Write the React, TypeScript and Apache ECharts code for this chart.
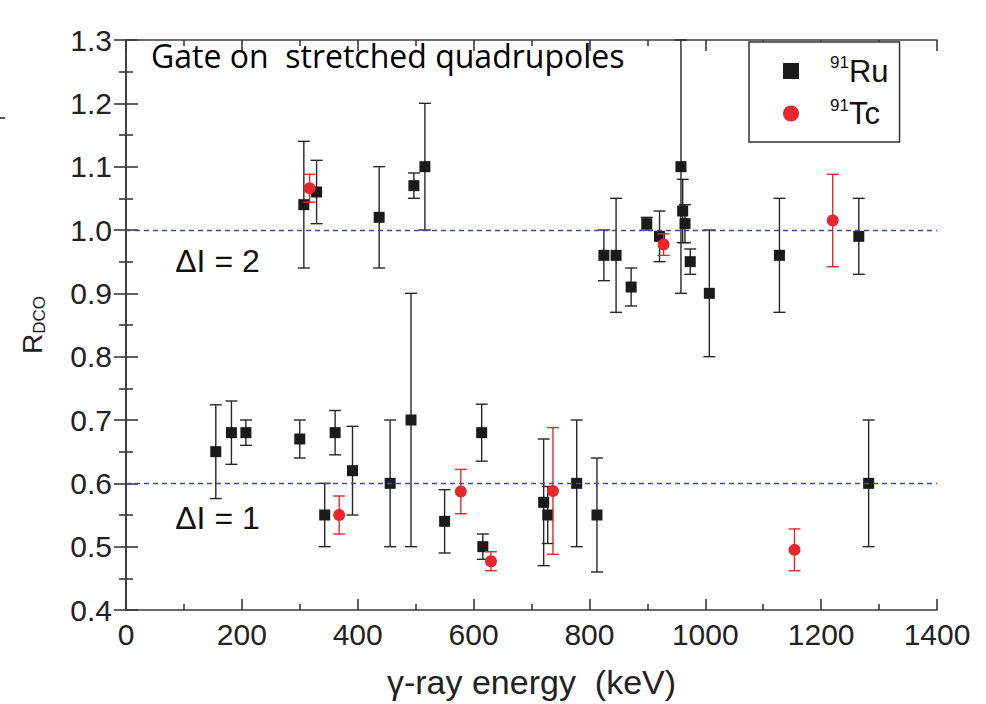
import React, { useEffect, useRef } from "react";
import * as echarts from "echarts";

// ---- data ----
const ruEnergy = [155, 182, 207, 300, 307, 329, 343, 361, 391, 437, 456, 492, 497, 516, 550, 614, 616, 721, 728, 778, 813, 825, 846, 872, 899, 921, 958, 961, 965, 974, 1007, 1128, 1265, 1282];
const ruRatio = [0.65, 0.68, 0.68, 0.67, 1.04, 1.06, 0.55, 0.68, 0.62, 1.02, 0.6, 0.7, 1.07, 1.1, 0.54, 0.68, 0.5, 0.57, 0.55, 0.6, 0.55, 0.96, 0.96, 0.91, 1.01, 0.99, 1.1, 1.03, 1.01, 0.95, 0.9, 0.96, 0.99, 0.6];
const ruError = [0.074, 0.05, 0.02, 0.03, 0.1, 0.05, 0.05, 0.035, 0.07, 0.08, 0.1, 0.2, 0.02, 0.1, 0.05, 0.045, 0.02, 0.1, 0.045, 0.1, 0.09, 0.04, 0.09, 0.03, 0.01, 0.04, 0.2, 0.05, 0.03, 0.02, 0.1, 0.09, 0.06, 0.1];

const tcEnergy = [317, 368, 578, 630, 737, 928, 1154, 1220];
const tcRatio = [1.066, 0.55, 0.587, 0.477, 0.588, 0.977, 0.495, 1.015];
const tcError = [0.022, 0.03, 0.035, 0.015, 0.1, 0.017, 0.033, 0.073];

const referenceLevels = [1.0, 0.6];
const levelLabels = ["ΔI = 2", "ΔI = 1"];
const levelLabelEnergy = [85, 85];
const levelLabelRatio = [0.951, 0.546];

const seriesNames = ["91Ru", "91Tc"];
const legendLabels = ["{sup|91}{main|Ru}", "{sup|91}{main|Tc}"];
const titleText = "Gate on  stretched quadrupoles";
const xAxisTitle = "γ-ray energy  (keV)";

const X_MIN = 0, X_MAX = 1400, X_STEP = 200;
const Y_MIN = 0.4, Y_MAX = 1.3, Y_STEP = 0.1;

const FONT = "'Liberation Sans', Arial, Helvetica, sans-serif";
const BLACK = "#1a1a1a";
const RED = "#e8262e";

function errorSeries(name: string, xs: number[], ys: number[], es: number[], color: string, z: number) {
  return {
    type: "custom",
    name,
    silent: true,
    z,
    data: xs.map((x, i) => [x, ys[i] - es[i], ys[i] + es[i]]),
    encode: { x: 0, y: [1, 2] },
    renderItem: (_params: any, api: any) => {
      const x = api.value(0);
      const lo = api.coord([x, api.value(1)]);
      const hi = api.coord([x, api.value(2)]);
      const w = 6;
      const style = { stroke: color, lineWidth: 1.4, fill: "none" };
      return {
        type: "group",
        children: [
          { type: "line", shape: { x1: lo[0], y1: lo[1], x2: hi[0], y2: hi[1] }, style },
          { type: "line", shape: { x1: lo[0] - w, y1: lo[1], x2: lo[0] + w, y2: lo[1] }, style },
          { type: "line", shape: { x1: hi[0] - w, y1: hi[1], x2: hi[0] + w, y2: hi[1] }, style },
        ],
      };
    },
  };
}

const axisLineStyle = { color: "#3a3a3a", width: 1.6 };

export default function App() {
  const ref = useRef<HTMLDivElement>(null);
  useEffect(() => {
    if (!ref.current) return;
    const chart = echarts.init(ref.current, undefined, { renderer: "svg" });
    const option: any = {
      animation: false,
      backgroundColor: "#ffffff",
      title: {
        text: titleText,
        left: 151,
        top: 39,
        padding: 0,
        textStyle: { fontFamily: "'Open Sans', sans-serif", fontSize: 32, fontWeight: "normal", color: "#000" },
      },
      grid: { left: 126, right: 49, top: 40, bottom: 92, containLabel: false },
      legend: {
        orient: "vertical",
        left: 749,
        top: 42,
        padding: [12, 11, 13, 34],
        itemWidth: 16,
        itemHeight: 16,
        itemGap: 10,
        borderColor: "#333",
        borderWidth: 1.5,
        backgroundColor: "#fff",
        data: [
          { name: seriesNames[0], icon: "rect" },
          { name: seriesNames[1], icon: "circle" },
        ],
        formatter: (name: string) => legendLabels[seriesNames.indexOf(name)],
        textStyle: {
          fontFamily: FONT,
          color: "#111",
          rich: {
            sup: { fontFamily: FONT, fontSize: 17, lineHeight: 14, verticalAlign: "top", padding: [0, 0, 0, 26], color: "#111" },
            main: { fontFamily: FONT, fontSize: 31, lineHeight: 34, color: "#111" },
          },
        },
      },
      xAxis: [
        {
          type: "value",
          min: X_MIN,
          max: X_MAX,
          interval: X_STEP,
          position: "bottom",
          name: xAxisTitle,
          nameLocation: "middle",
          nameGap: 55,
          nameTextStyle: { fontFamily: FONT, fontSize: 34, color: "#222" },
          axisLine: { show: true, lineStyle: axisLineStyle },
          axisTick: { show: true, inside: true, length: 11, lineStyle: axisLineStyle },
          minorTick: { show: true, splitNumber: 2, length: 6, lineStyle: axisLineStyle },
          axisLabel: { fontFamily: FONT, fontSize: 30, color: "#222", margin: 9, formatter: (v: number) => String(v) },
          splitLine: { show: false },
        },
        {
          type: "value",
          min: X_MIN,
          max: X_MAX,
          interval: X_STEP,
          position: "top",
          axisLine: { show: true, lineStyle: axisLineStyle },
          axisTick: { show: true, inside: true, length: 11, lineStyle: axisLineStyle },
          minorTick: { show: true, splitNumber: 2, length: 6, lineStyle: axisLineStyle },
          axisLabel: { show: false },
          splitLine: { show: false },
        },
      ],
      yAxis: [
        {
          type: "value",
          min: Y_MIN,
          max: Y_MAX,
          interval: Y_STEP,
          position: "left",
          name: "{r|R}{s|DCO}",
          nameLocation: "middle",
          nameRotate: 90,
          nameGap: 78,
          nameTextStyle: {
            fontFamily: FONT,
            color: "#222",
            rich: {
              r: { fontFamily: FONT, fontSize: 28, lineHeight: 30, verticalAlign: "top", color: "#222" },
              s: { fontFamily: FONT, fontSize: 17, lineHeight: 17, verticalAlign: "bottom", padding: [22, 0, 0, 0], color: "#222" },
            },
          },
          axisLine: { show: true, lineStyle: axisLineStyle },
          axisTick: { show: true, inside: true, length: 12, lineStyle: axisLineStyle },
          minorTick: { show: true, splitNumber: 2, length: 7, lineStyle: axisLineStyle },
          axisLabel: { fontFamily: FONT, fontSize: 30, color: "#222", margin: 14, formatter: (v: number) => v.toFixed(1) },
          splitLine: { show: false },
        },
        {
          type: "value",
          min: Y_MIN,
          max: Y_MAX,
          interval: Y_STEP,
          position: "right",
          axisLine: { show: true, lineStyle: axisLineStyle },
          axisTick: { show: true, inside: true, length: 12, lineStyle: axisLineStyle },
          minorTick: { show: true, splitNumber: 2, length: 7, lineStyle: axisLineStyle },
          axisLabel: { show: false },
          splitLine: { show: false },
        },
      ],
      series: [
        {
          type: "line",
          name: "levels",
          data: [],
          silent: true,
          markLine: {
            silent: true,
            symbol: ["none", "none"],
            label: { show: false },
            lineStyle: { color: "#3b4ba3", type: [5, 4], width: 1.3 },
            data: referenceLevels.map((v) => ({ yAxis: v })),
          },
        },
        {
          type: "scatter",
          name: "levelLabels",
          silent: true,
          symbolSize: 0,
          itemStyle: { opacity: 1 },
          data: levelLabelEnergy.map((x, i) => [x, levelLabelRatio[i], levelLabels[i]]),
          label: {
            show: true,
            position: "right",
            distance: 0,
            formatter: (p: any) => p.data[2],
            fontFamily: FONT,
            fontSize: 32,
            color: "#111",
            opacity: 1,
          },
        },
        errorSeries("ruErr", ruEnergy, ruRatio, ruError, "#262626", 2),
        {
          type: "scatter",
          name: seriesNames[0],
          symbol: "rect",
          symbolSize: 11,
          z: 3,
          itemStyle: { color: BLACK, opacity: 1 },
          data: ruEnergy.map((x, i) => [x, ruRatio[i]]),
        },
        errorSeries("tcErr", tcEnergy, tcRatio, tcError, RED, 4),
        {
          type: "scatter",
          name: seriesNames[1],
          symbol: "circle",
          symbolSize: 12,
          z: 5,
          itemStyle: { color: RED, opacity: 1 },
          data: tcEnergy.map((x, i) => [x, tcRatio[i]]),
        },
      ],
      graphic: [
        { type: "line", shape: { x1: 0, y1: 118, x2: 5, y2: 118 }, style: { stroke: "#222", lineWidth: 1.5 } },
      ],
    };
    chart.setOption(option);
    return () => chart.dispose();
  }, []);
  return <div ref={ref} style={{ position: "fixed", left: 0, top: 0, width: 986, height: 704, background: "#fff" }} />;
}
